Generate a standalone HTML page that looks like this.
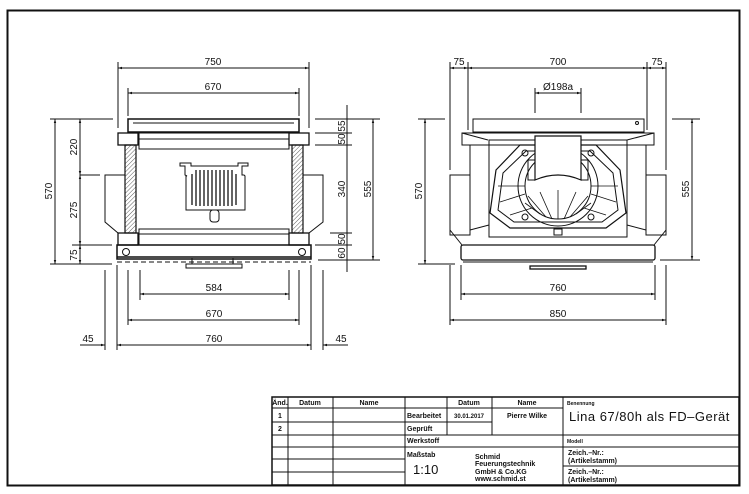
<!DOCTYPE html>
<html><head><meta charset="utf-8"><style>
html,body{margin:0;padding:0;background:#fff}
svg{display:block}
text{font-family:"Liberation Sans",sans-serif;fill:#111}
.d{font-size:10px}
.t{font-size:7px;font-weight:bold}
</style></head><body>
<svg width="749" height="494" viewBox="0 0 749 494" xmlns="http://www.w3.org/2000/svg">
<defs>
<pattern id="h" width="3" height="3" patternUnits="userSpaceOnUse" patternTransform="rotate(45)"><line x1="0" y1="0" x2="0" y2="3" stroke="#333" stroke-width="0.8"/></pattern>
<marker id="a" viewBox="0 0 10 10" refX="10" refY="5" markerWidth="7" markerHeight="4" orient="auto-start-reverse"><path d="M0,2 L10,5 L0,8z" fill="#111"/></marker>
</defs>
<rect x="7.5" y="10.5" width="732" height="475" fill="none" stroke="#111" stroke-width="2"/>

<g stroke="#111" fill="none" stroke-width="1">
<!-- LEFT VIEW -->
<!-- extension lines -->
<line x1="118" y1="62" x2="118" y2="128"/><line x1="309" y1="62" x2="309" y2="128"/>
<line x1="128" y1="88" x2="128" y2="116"/><line x1="299" y1="88" x2="299" y2="116"/>
<line x1="118" y1="68" x2="309" y2="68" marker-start="url(#a)" marker-end="url(#a)"/>
<line x1="128" y1="93" x2="299" y2="93" marker-start="url(#a)" marker-end="url(#a)"/>
<!-- body -->
<rect x="128" y="119" width="171" height="13" stroke-width="1.5"/>
<line x1="133" y1="123" x2="294" y2="123"/>
<rect x="118" y="133" width="20" height="12" stroke-width="1.3"/>
<rect x="289" y="133" width="20" height="12" stroke-width="1.3"/>
<rect x="139" y="133" width="150" height="16"/>
<line x1="139" y1="139" x2="289" y2="139"/>
<rect x="125" y="145" width="11" height="88" fill="url(#h)" stroke-width="1.2"/>
<rect x="292" y="145" width="11" height="88" fill="url(#h)" stroke-width="1.2"/>
<rect x="118" y="233" width="20" height="12" stroke-width="1.3"/>
<rect x="289" y="233" width="20" height="12" stroke-width="1.3"/>
<rect x="139" y="229" width="150" height="16"/>
<line x1="139" y1="234" x2="289" y2="234"/>
<path d="M125,175 H105 V222 L118,233"/>
<path d="M303,175 H323 V222 L309,233"/>
<rect x="117" y="245" width="194" height="14" stroke-width="1.5"/>
<line x1="117" y1="257" x2="311" y2="257" stroke-width="1.5"/>
<line x1="117" y1="262" x2="311" y2="262" stroke-dasharray="5,3"/>
<circle cx="126" cy="252" r="3.5"/><circle cx="302" cy="252" r="3.5"/>
<rect x="186" y="264" width="56" height="4"/>
<line x1="192" y1="258" x2="192" y2="264"/><line x1="233" y1="258" x2="233" y2="264"/>
<!-- grate -->
<path d="M180,163 V166 H185 V175 L187,176 H186 V210 H245 V176 L244,175 H242 V166 H248 V163 H238 V166 H191 V163 Z"/>
<g stroke-width="1.3">
<line x1="192" y1="174" x2="192" y2="205"/><line x1="196" y1="170" x2="196" y2="206"/><line x1="200" y1="170" x2="200" y2="206"/><line x1="204" y1="170" x2="204" y2="206"/><line x1="208" y1="170" x2="208" y2="206"/><line x1="212" y1="170" x2="212" y2="206"/><line x1="216" y1="170" x2="216" y2="206"/><line x1="220" y1="170" x2="220" y2="206"/><line x1="224" y1="170" x2="224" y2="206"/><line x1="228" y1="170" x2="228" y2="206"/><line x1="232" y1="170" x2="232" y2="206"/><line x1="236" y1="174" x2="236" y2="205"/>
</g>
<rect x="210" y="210" width="9" height="12" rx="3"/>
<!-- left dims -->
<line x1="50" y1="119" x2="113" y2="119"/><line x1="50" y1="264" x2="112" y2="264"/>
<line x1="80" y1="175" x2="100" y2="175"/><line x1="72" y1="245" x2="112" y2="245"/>
<line x1="55" y1="119" x2="55" y2="264" marker-start="url(#a)" marker-end="url(#a)"/>
<line x1="80" y1="119" x2="80" y2="175" marker-start="url(#a)" marker-end="url(#a)"/>
<line x1="80" y1="175" x2="80" y2="245" marker-start="url(#a)" marker-end="url(#a)"/>
<line x1="80" y1="245" x2="80" y2="264" marker-start="url(#a)" marker-end="url(#a)"/>
<!-- right dims -->
<line x1="315" y1="119" x2="380" y2="119"/><line x1="315" y1="133" x2="352" y2="133"/><line x1="315" y1="145" x2="352" y2="145"/>
<line x1="330" y1="233" x2="352" y2="233"/><line x1="315" y1="245" x2="352" y2="245"/><line x1="318" y1="260" x2="380" y2="260"/>
<line x1="347" y1="105" x2="347" y2="272"/>
<line x1="373" y1="119" x2="373" y2="260" marker-start="url(#a)" marker-end="url(#a)"/>
<!-- bottom dims -->
<line x1="140" y1="270" x2="140" y2="300"/><line x1="289" y1="270" x2="289" y2="300"/>
<line x1="128" y1="270" x2="128" y2="325"/><line x1="299" y1="270" x2="299" y2="325"/>
<line x1="117" y1="265" x2="117" y2="350"/><line x1="311" y1="265" x2="311" y2="350"/>
<line x1="105" y1="270" x2="105" y2="350"/><line x1="323" y1="270" x2="323" y2="350"/>
<line x1="140" y1="294" x2="289" y2="294" marker-start="url(#a)" marker-end="url(#a)"/>
<line x1="128" y1="320" x2="299" y2="320" marker-start="url(#a)" marker-end="url(#a)"/>
<line x1="117" y1="345" x2="311" y2="345" marker-start="url(#a)" marker-end="url(#a)"/>
<line x1="80" y1="345" x2="105" y2="345" marker-end="url(#a)"/>
<line x1="348" y1="345" x2="323" y2="345" marker-end="url(#a)"/>

<!-- RIGHT VIEW -->
<line x1="450" y1="62" x2="450" y2="170"/><line x1="468" y1="62" x2="468" y2="130"/>
<line x1="647" y1="62" x2="647" y2="130"/><line x1="666" y1="62" x2="666" y2="170"/>
<line x1="450" y1="68" x2="468" y2="68" marker-start="url(#a)" marker-end="url(#a)"/>
<line x1="468" y1="68" x2="647" y2="68" marker-start="url(#a)" marker-end="url(#a)"/>
<line x1="647" y1="68" x2="666" y2="68" marker-start="url(#a)" marker-end="url(#a)"/>
<line x1="535" y1="88" x2="535" y2="113"/><line x1="581" y1="88" x2="581" y2="113"/>
<line x1="535" y1="93" x2="581" y2="93" marker-start="url(#a)" marker-end="url(#a)"/>
<rect x="473" y="119" width="171" height="13"/>
<circle cx="637" cy="123" r="1.5"/>
<path d="M462,133 H654 V145 H462 Z M462,133 L488,140 M654,133 L627,140"/>
<rect x="489" y="140" width="138" height="97"/>
<path d="M470,145 V235 H450 V175 H470"/><path d="M450,230 L462,245"/>
<path d="M646,145 V235 H666 V175 H646"/><path d="M666,230 L654,245"/>
<path d="M470,230 L489,225 M646,230 L627,225"/>
<rect x="461" y="245" width="194" height="15" rx="2" stroke-width="1.3"/>
<line x1="463" y1="262" x2="653" y2="262"/>
<rect x="530" y="266" width="56" height="3" stroke-width="1.3"/>
<!-- octagon burner -->
<path d="M520,145 L496,170 L490,213 L510,228 L606,228 L626,213 L620,170 L596,145 Z" stroke-width="1.2"/>
<path d="M526,151 L503,173 L498,210 L514,222 L602,222 L618,210 L613,173 L590,151 Z"/>
<circle cx="558" cy="186" r="40"/>
<circle cx="558" cy="186" r="33"/>
<g stroke-width="0.8">
<line x1="558" y1="219" x2="558" y2="190"/><line x1="552" y1="219" x2="540" y2="192"/><line x1="564" y1="219" x2="576" y2="192"/>
<line x1="546" y1="217" x2="528" y2="196"/><line x1="570" y1="217" x2="588" y2="196"/>
<line x1="540" y1="214" x2="525" y2="203"/><line x1="576" y1="214" x2="591" y2="203"/>
<line x1="498" y1="186" x2="525" y2="186"/><line x1="591" y1="186" x2="618" y2="186"/>
<line x1="500" y1="202" x2="525" y2="194"/><line x1="616" y1="202" x2="591" y2="194"/>
<line x1="510" y1="215" x2="532" y2="208"/><line x1="606" y1="215" x2="584" y2="208"/>
</g>
<path d="M535,136 H581 V180 Q558,170 535,180 Z" fill="#fff" stroke-width="1.2"/>
<rect x="528" y="160" width="7" height="20"/><rect x="581" y="160" width="7" height="20"/>
<circle cx="525" cy="153" r="3"/><circle cx="591" cy="153" r="3"/>
<circle cx="525" cy="217" r="3"/><circle cx="591" cy="217" r="3"/>
<rect x="554" y="229" width="8" height="6"/>
<!-- right view dims -->
<line x1="418" y1="119" x2="445" y2="119"/><line x1="418" y1="264" x2="455" y2="264"/>
<line x1="425" y1="119" x2="425" y2="264" marker-start="url(#a)" marker-end="url(#a)"/>
<line x1="672" y1="119" x2="700" y2="119"/><line x1="660" y1="260" x2="700" y2="260"/>
<line x1="692" y1="119" x2="692" y2="260" marker-start="url(#a)" marker-end="url(#a)"/>
<line x1="461" y1="265" x2="461" y2="300"/><line x1="655" y1="265" x2="655" y2="300"/>
<line x1="450" y1="265" x2="450" y2="325"/><line x1="666" y1="265" x2="666" y2="325"/>
<line x1="461" y1="294" x2="655" y2="294" marker-start="url(#a)" marker-end="url(#a)"/>
<line x1="450" y1="320" x2="666" y2="320" marker-start="url(#a)" marker-end="url(#a)"/>

<!-- TITLE BLOCK -->
<g stroke-width="1">
<rect x="272" y="397" width="467" height="88" stroke-width="1.5"/>
<line x1="272" y1="408" x2="563" y2="408"/>
<line x1="272" y1="422" x2="492" y2="422"/>
<line x1="272" y1="435" x2="739" y2="435"/>
<line x1="272" y1="447" x2="739" y2="447"/>
<line x1="272" y1="459" x2="405" y2="459"/><line x1="563" y1="466" x2="739" y2="466"/>
<line x1="272" y1="472" x2="405" y2="472"/>
<line x1="288" y1="397" x2="288" y2="485"/>
<line x1="333" y1="397" x2="333" y2="485"/>
<line x1="405" y1="397" x2="405" y2="485"/>
<line x1="447" y1="397" x2="447" y2="435"/>
<line x1="492" y1="397" x2="492" y2="435"/>
<line x1="563" y1="397" x2="563" y2="485"/>
</g>
</g>

<!-- LEFT texts -->
<text class="d" x="213" y="65" text-anchor="middle">750</text>
<text class="d" x="213" y="90" text-anchor="middle">670</text>
<text class="d" x="214" y="291" text-anchor="middle">584</text>
<text class="d" x="214" y="317" text-anchor="middle">670</text>
<text class="d" x="214" y="342" text-anchor="middle">760</text>
<text class="d" x="88" y="342" text-anchor="middle">45</text>
<text class="d" x="341" y="342" text-anchor="middle">45</text>
<text class="d" transform="translate(52,191) rotate(-90)" text-anchor="middle">570</text>
<text class="d" transform="translate(77,147) rotate(-90)" text-anchor="middle">220</text>
<text class="d" transform="translate(77,210) rotate(-90)" text-anchor="middle">275</text>
<text class="d" transform="translate(77,255) rotate(-90)" text-anchor="middle">75</text>
<text class="d" transform="translate(345,126) rotate(-90)" text-anchor="middle">55</text>
<text class="d" transform="translate(345,139) rotate(-90)" text-anchor="middle">50</text>
<text class="d" transform="translate(345,189) rotate(-90)" text-anchor="middle">340</text>
<text class="d" transform="translate(345,239) rotate(-90)" text-anchor="middle">50</text>
<text class="d" transform="translate(345,253) rotate(-90)" text-anchor="middle">60</text>
<text class="d" transform="translate(371,189) rotate(-90)" text-anchor="middle">555</text>
<!-- RIGHT texts -->
<text class="d" x="459" y="65" text-anchor="middle">75</text>
<text class="d" x="558" y="65" text-anchor="middle">700</text>
<text class="d" x="657" y="65" text-anchor="middle">75</text>
<text class="d" x="558" y="90" text-anchor="middle">Ø198a</text>
<text class="d" transform="translate(422,191) rotate(-90)" text-anchor="middle">570</text>
<text class="d" transform="translate(689,189) rotate(-90)" text-anchor="middle">555</text>
<text class="d" x="558" y="291" text-anchor="middle">760</text>
<text class="d" x="558" y="317" text-anchor="middle">850</text>

<!-- title block text -->
<text class="t" x="280" y="405" text-anchor="middle">Änd.</text>
<text class="t" x="310" y="405" text-anchor="middle">Datum</text>
<text class="t" x="369" y="405" text-anchor="middle">Name</text>
<text class="t" x="469" y="405" text-anchor="middle">Datum</text>
<text class="t" x="527" y="405" text-anchor="middle">Name</text>
<text x="567" y="405" style="font-size:5px;font-weight:bold">Benennung</text>
<text class="t" x="280" y="418" text-anchor="middle">1</text>
<text class="t" x="280" y="431" text-anchor="middle">2</text>
<text class="t" x="407" y="418">Bearbeitet</text>
<text x="469" y="418" text-anchor="middle" style="font-size:6px;font-weight:bold">30.01.2017</text>
<text class="t" x="527" y="418" text-anchor="middle">Pierre Wilke</text>
<text x="569" y="421" style="font-size:13px;letter-spacing:0.5px">Lina 67/80h als FD–Gerät</text>
<text class="t" x="407" y="431">Geprüft</text>
<text class="t" x="407" y="443">Werkstoff</text>
<text x="567" y="443" style="font-size:5px;font-weight:bold">Modell</text>
<text class="t" x="407" y="457">Maßstab</text>
<text x="413" y="474" style="font-size:13px">1:10</text>
<text class="t" x="475" y="459">Schmid</text>
<text class="t" x="475" y="466">Feuerungstechnik</text>
<text class="t" x="475" y="474">GmbH &amp; Co.KG</text>
<text class="t" x="475" y="481">www.schmid.st</text>
<text class="t" x="568" y="455">Zeich.–Nr.:</text>
<text class="t" x="568" y="463">(Artikelstamm)</text>
<text class="t" x="568" y="474">Zeich.–Nr.:</text>
<text class="t" x="568" y="482">(Artikelstamm)</text>
</svg>
</body></html>
